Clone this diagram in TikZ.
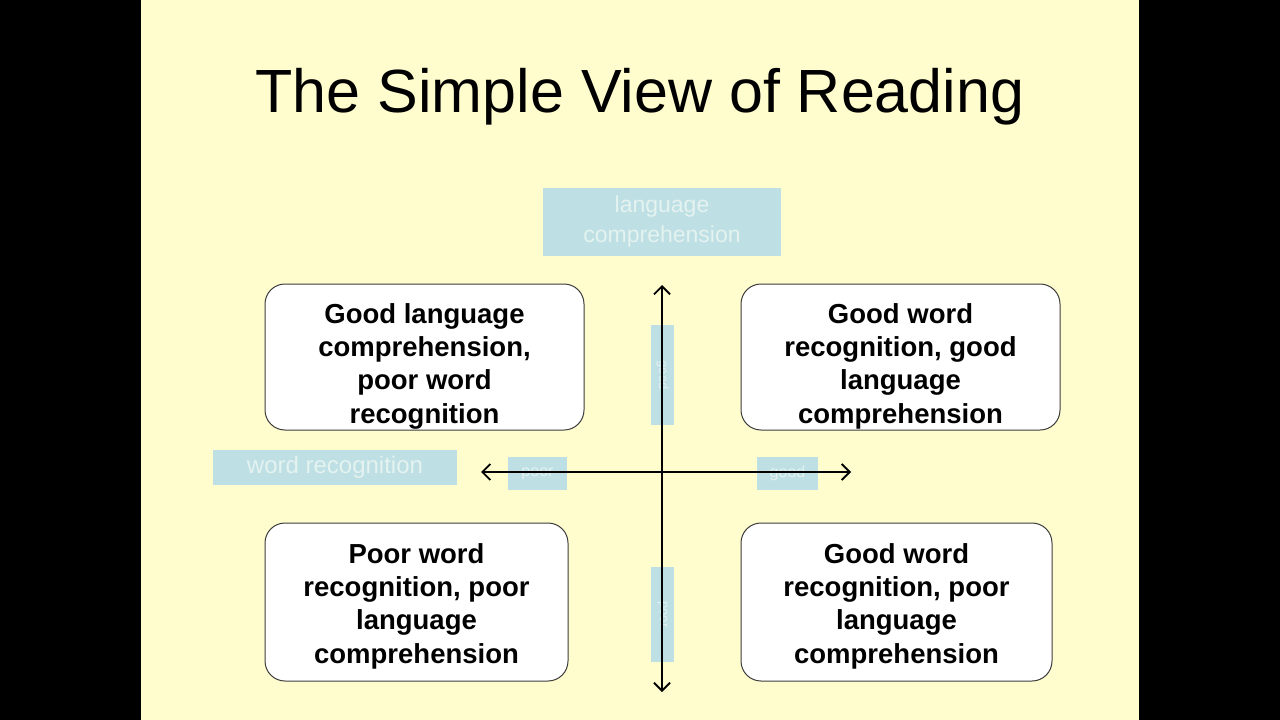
\documentclass[tikz,border=0pt]{standalone}
\usepackage{fontspec}
\setmainfont{Liberation Sans}
\usetikzlibrary{arrows.meta}
\definecolor{bgyellow}{RGB}{255,253,206}
\definecolor{faintblue}{RGB}{190,224,228}
\definecolor{fainttext}{RGB}{228,242,240}
\definecolor{boxline}{RGB}{60,60,60}
\tikzset{
  quad/.style={draw=boxline, line width=1pt, fill=white, rounded corners=20pt, inner sep=0pt},
  quadtext/.style={align=center, font=\fontsize{27.5}{33.3}\selectfont\bfseries, inner sep=0pt},
  faintbox/.style={fill=faintblue, inner sep=0pt, text=fainttext, align=center},
  axis/.style={line width=1.4pt, -{Straight Barb[length=8pt,width=16pt,line width=1.8pt]}},
}
\begin{document}
\begin{tikzpicture}[x=1pt,y=-1pt]
\useasboundingbox (0,0) rectangle (1280,720);
\fill[black] (0,0) rectangle (1280,720);
\fill[bgyellow] (141,0) rectangle (1139,720);

\node[font=\fontsize{61}{70}\selectfont] (title) at (640,97) {The Simple View of Reading};

% faint label boxes
\node[faintbox, minimum width=238pt, minimum height=68pt,
  font=\fontsize{23}{30}\selectfont] (lc) at (662,222) {language\\comprehension};
\node[faintbox, minimum width=244pt, minimum height=35pt,
  font=\fontsize{24}{26}\selectfont] (wr) at (335,467) {word recognition};
\node[faintbox, minimum width=59pt, minimum height=33pt,
  font=\fontsize{16}{18}\selectfont] (poorh) at (537.5,473.5) {poor};
\node[faintbox, minimum width=61pt, minimum height=33pt,
  font=\fontsize{16}{18}\selectfont] (goodh) at (787.5,473.5) {good};
\node[faintbox, minimum width=100pt, minimum height=23pt, rotate=-90,
  font=\fontsize{13}{16}\selectfont] (goodv) at (662.5,375) {good};
\node[faintbox, minimum width=95pt, minimum height=23pt, rotate=-90,
  font=\fontsize{13}{16}\selectfont] (poorv) at (662.5,614.5) {poor};

% axes
\coordinate (top) at (662,285);
\coordinate (bottom) at (662,692);
\coordinate (left) at (481,472);
\coordinate (right) at (851,472);
\coordinate (mid) at (662,472);
\draw[axis] (mid) -- (top);
\draw[axis] (mid) -- (bottom);
\draw[axis] (mid) -- (left);
\draw[axis] (mid) -- (right);

% quadrants
\node[quad, minimum width=319pt, minimum height=146pt] (tl) at (424.5,357) {};
\node[quadtext] (tltext) at (424.5,366)
  {Good language\\comprehension,\\poor word\\recognition};
\node[quad, minimum width=319pt, minimum height=146pt] (tr) at (900.5,357) {};
\node[quadtext] (trtext) at (900.5,366)
  {Good word\\recognition, good\\language\\comprehension};
\node[quad, minimum width=303pt, minimum height=158pt] (bl) at (416.5,602) {};
\node[quadtext] (bltext) at (416.5,606)
  {Poor word\\recognition, poor\\language\\comprehension};
\node[quad, minimum width=311pt, minimum height=158pt] (br) at (896.5,602) {};
\node[quadtext] (brtext) at (896.5,606)
  {Good word\\recognition, poor\\language\\comprehension};
\end{tikzpicture}
\end{document}
